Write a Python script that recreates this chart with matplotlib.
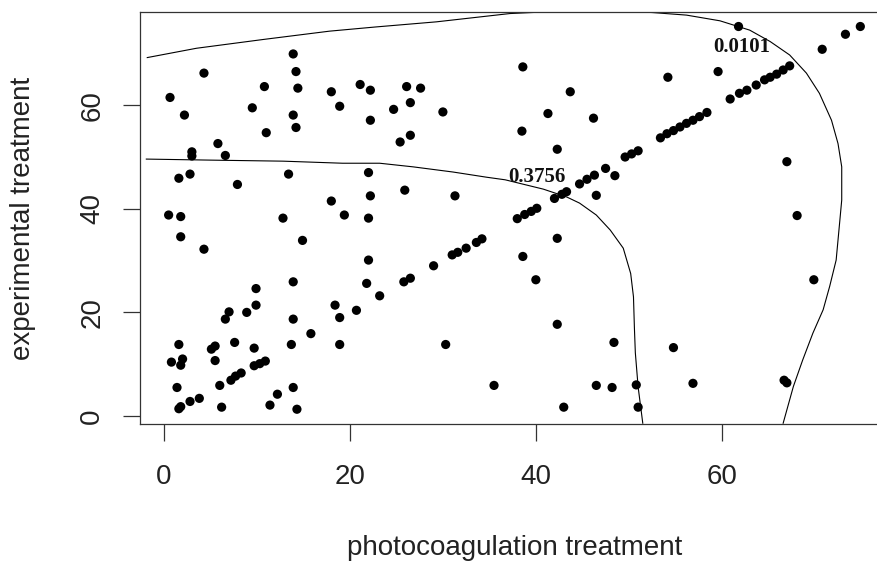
import matplotlib
matplotlib.use("Agg")
import matplotlib.pyplot as plt

# Paired times to blindness (months): photocoagulation-treated eye vs experimental eye
photo_time = [
    13.9, 4.3, 14.2, 10.8, 14.4, 18.0, 21.1, 22.2, 0.65, 9.5, 18.9, 2.2, 13.9, 22.2,
    14.2, 11.0, 5.8, 3.0, 3.0, 6.6, 1.6, 2.8, 13.4, 7.9, 22.0, 18.0, 22.2, 19.4,
    22.0, 0.5, 1.8, 12.8,
    1.8, 4.3, 14.9, 22.0, 13.9, 21.8, 23.2, 9.9, 9.9, 7.0, 6.6, 8.9, 18.4, 18.9,
    20.7, 13.9, 15.8, 13.7, 18.9, 1.6, 7.6, 5.1, 5.5, 9.7, 5.5, 0.8, 1.8, 2.0,
    9.7, 10.3, 10.9, 7.2, 7.7, 8.3, 1.4, 6.0, 13.9, 12.2, 2.8, 3.8, 1.6, 1.8,
    6.2, 11.4, 14.3,
    38.6, 26.1, 27.6, 26.5, 24.7, 30.0, 26.5, 25.4, 43.7, 41.3, 46.2, 38.5, 42.3,
    25.9, 31.3, 47.5, 48.5, 46.5,
    44.7, 45.5, 46.3, 42.0, 42.8, 43.3, 38.0, 38.8, 39.5, 40.1,
    25.8, 26.5, 29.0, 31.0, 31.6, 32.5, 33.6, 34.2, 42.3, 38.6, 40.0, 42.3, 30.3,
    48.4, 35.5, 46.5, 48.2, 43.0,
    68.1, 69.9, 54.8, 50.8, 51.0, 56.9, 66.7, 67.0,
    61.8, 74.9, 73.3, 70.8, 59.6, 54.2, 67.0,
    49.6, 50.3, 51.0, 53.4, 54.1, 54.8, 55.5, 56.2, 56.9, 57.6, 58.4, 60.9, 61.9,
    62.7, 63.7, 64.6, 65.2, 65.9, 66.6, 67.3,
]
experimental_time = [
    69.9, 66.2, 66.5, 63.6, 63.3, 62.6, 64.0, 62.9, 61.5, 59.5, 59.8, 58.1, 58.1, 57.1,
    55.7, 54.7, 52.6, 51.0, 50.2, 50.3, 45.9, 46.7, 46.7, 44.7, 47.0, 41.5, 42.5, 38.8,
    38.2, 38.8, 38.5, 38.2,
    34.6, 32.2, 33.9, 30.1, 25.9, 25.6, 23.2, 24.6, 21.4, 20.1, 18.7, 20.0, 21.4, 19.0,
    20.4, 18.7, 15.9, 13.8, 13.8, 13.8, 14.2, 12.9, 13.5, 13.1, 10.7, 10.4, 9.8, 11.0,
    9.7, 10.1, 10.6, 6.9, 7.7, 8.3, 5.5, 5.9, 5.5, 4.2, 2.8, 3.4, 1.4, 1.8,
    1.7, 2.1, 1.3,
    67.4, 63.6, 63.3, 60.5, 59.2, 58.7, 54.2, 52.9, 62.6, 58.4, 57.5, 55.0, 51.5,
    43.6, 42.5, 47.8, 46.4, 42.6,
    44.8, 45.7, 46.5, 42.0, 42.8, 43.3, 38.1, 38.9, 39.5, 40.1,
    25.9, 26.6, 29.0, 31.1, 31.6, 32.4, 33.5, 34.2, 34.3, 30.8, 26.3, 17.7, 13.8,
    14.2, 5.9, 5.9, 5.5, 1.7,
    38.7, 26.3, 13.2, 6.0, 1.7, 6.3, 6.9, 6.4,
    75.2, 75.2, 73.7, 70.8, 66.5, 65.4, 49.1,
    50.0, 50.6, 51.2, 53.7, 54.5, 55.1, 55.8, 56.5, 57.1, 57.8, 58.6, 61.2, 62.3,
    62.9, 63.9, 64.9, 65.4, 66.0, 66.8, 67.6,
]

# Joint survival contour levels and their traced paths
level_labels = ["0.3756", "0.0101"]
inner_x = [-1.9, 5.0, 12.8, 19.2, 23.2, 26.8, 31.1, 34.7, 36.7, 40.8, 43.3, 44.7,
           46.5, 48.0, 49.4, 50.2, 50.5, 50.6, 50.7, 51.0, 51.5]
inner_y = [49.6, 49.4, 49.2, 48.8, 48.8, 48.1, 47.1, 46.1, 45.6, 43.8, 42.3, 41.1,
           38.8, 35.9, 32.4, 27.5, 23.0, 17.0, 12.2, 5.6, -1.4]
outer_x = [-1.8, 3.5, 10.7, 17.8, 22.7, 29.3, 37.2, 42.0, 48.0, 52.5, 56.2, 59.8,
           63.0, 65.2, 67.3, 69.1, 70.5, 71.8, 72.5, 72.9, 72.9, 72.7, 72.3, 71.6,
           70.9, 69.8, 68.7, 67.7, 66.6]
outer_y = [69.2, 71.0, 72.7, 74.3, 75.1, 76.1, 77.7, 78.1, 78.2, 77.9, 77.4, 76.3,
           74.5, 72.3, 69.7, 66.2, 62.3, 57.1, 52.6, 48.1, 41.7, 37.8, 30.1, 25.0,
           20.5, 16.0, 10.8, 5.7, -1.4]
label_pos = [(40.1, 46.1), (62.1, 71.2)]

x_ticks = [0, 20, 40, 60]
y_ticks = [0, 20, 40, 60]

W, H = 878, 566
fig = plt.figure(figsize=(W / 100, H / 100), dpi=100)
left, right, top, bottom = 140, 891, 12, 424
ax = fig.add_axes([left / W, (H - bottom) / H, (right - left) / W, (bottom - top) / H])
ax.set_xlim(-2.58, 78.2)
ax.set_ylim(-1.55, 78.0)

ax.plot(inner_x, inner_y, color="black", lw=0.8, zorder=2)
ax.plot(outer_x, outer_y, color="black", lw=0.8, zorder=2)
ax.scatter(photo_time, experimental_time, s=44, color="black", edgecolors="none", zorder=3)

for txt, (lx, ly) in zip(level_labels, label_pos):
    ax.text(lx, ly, txt, ha="center", va="center", family="Liberation Serif",
            fontsize=15, fontweight="bold", color="#111111", zorder=4)

for sp in ax.spines.values():
    sp.set_color("#333333")
    sp.set_linewidth(0.9)
ax.spines["right"].set_visible(False)

tick_font = dict(family="Liberation Sans", size=20, color="#222222")
ax.set_xticks(x_ticks)
ax.set_yticks(y_ticks)
ax.set_xticklabels([str(v) for v in x_ticks], fontdict=tick_font)
ax.set_yticklabels([str(v) for v in y_ticks], fontdict=tick_font, rotation=90, va="center")
ax.tick_params(axis="x", length=12, width=0.9, color="#333333", pad=17)
ax.tick_params(axis="y", length=12, width=0.9, color="#333333", pad=13)

fig.text(514.5 / W, (H - 548) / H, "photocoagulation treatment", ha="center", va="center",
         family="Liberation Sans", fontsize=20, color="#222222")
fig.text(23 / W, (H - 218) / H, "experimental treatment", ha="center", va="center",
         rotation=90, family="Liberation Sans", fontsize=20, color="#222222")

fig.savefig("out.png", dpi=100)
